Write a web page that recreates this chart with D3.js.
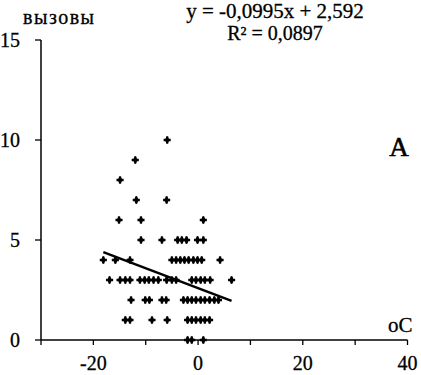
<!DOCTYPE html>
<html>
<head>
<meta charset="utf-8">
<script src="https://cdn.jsdelivr.net/npm/d3@7"></script>
<style>
  body { margin: 0; background: #fff; }
  svg { display: block; }
  text { font-family: "Liberation Serif", "Times New Roman", serif; fill: #000; stroke: #000; stroke-width: 0.3px; }
</style>
</head>
<body>
<div id="chart"></div>
<script>
// temperature (oC) and number of calls
const temps = [
  -5.9,
  -12,
  -14.9,
  -11.8, -6,
  -15.1, -10.9, 1.0,
  -10.9, -6.9, -3.9, -3.1, -2.2, -0.1, 1.0,
  -18.1, -15.8, -13, -5, -4.2, -3.4, -2.6, -1.8, -0.9, -0.1, 0.7, 4.2,
  -16.9, -14.9, -13.9, -13, -11.1, -10.2, -9.4, -8.5, -7.6, -6, -5, -4.2, -1.2, -0.4, 0.5, 1.3, 2.3, 6.4,
  -12.8, -10.1, -9.3, -6.9, -6.1, -2.8, -2, -1.2, -0.4, 0.5, 1.3, 2.2, 3.1, 3.9,
  -13.9, -13, -8.8, -5.9, -2, -1.2, -0.4, 0.5, 1.3, 2.2,
  -2, -1.2, 1.0
]
const calls = [
  10,
  9,
  8,
  7, 7,
  6, 6, 6,
  5, 5, 5, 5, 5, 5, 5,
  4, 4, 4, 4, 4, 4, 4, 4, 4, 4, 4, 4,
  3, 3, 3, 3, 3, 3, 3, 3, 3, 3, 3, 3, 3, 3, 3, 3, 3, 3,
  2, 2, 2, 2, 2, 2, 2, 2, 2, 2, 2, 2, 2, 2,
  1, 1, 1, 1, 1, 1, 1, 1, 1, 1,
  0, 0, 0
]
const xTicks = [-30, -20, -10, 0, 10, 20, 30, 40]
const xLabels = [-20, 0, 20, 40]
const yTicks = [0, 5, 10, 15]
const trend = { slope: -0.0995, intercept: 2.592 }

const width = 421, height = 375

const svg = d3.select('#chart').append('svg')
    .attr('width', width)
    .attr('height', height)

const x = d3.scaleLinear().domain([-30, 40]).range([41, 407.5])
const y = d3.scaleLinear().domain([0, 15]).range([340, 40])

// x axis
const xAxis = svg.append('g').attr('transform', `translate(0, ${y(0)})`)
xAxis.append('line')
    .attr('x1', x(-30)).attr('x2', x(40))
    .attr('stroke', '#000').attr('stroke-width', 1.5)
xAxis.selectAll('.tick')
    .data(xTicks)
    .enter()
    .append('line')
    .attr('x1', d => x(d)).attr('x2', d => x(d))
    .attr('y1', 0).attr('y2', 5)
    .attr('stroke', '#000').attr('stroke-width', 1.3)
xAxis.selectAll('.lbl')
    .data(xLabels)
    .enter()
    .append('text')
    .attr('x', d => x(d))
    .attr('y', 30)
    .attr('text-anchor', 'middle')
    .style('font-size', '20px')
    .text(d => d < 0 ? '-' + Math.abs(d) : d)

// y axis
const yAxis = svg.append('g').attr('transform', `translate(${x(-30)}, 0)`)
yAxis.append('line')
    .attr('y1', y(0)).attr('y2', y(15))
    .attr('stroke', '#000').attr('stroke-width', 1.5)
yAxis.selectAll('.tick')
    .data(yTicks)
    .enter()
    .append('line')
    .attr('x1', -6).attr('x2', 0)
    .attr('y1', d => y(d)).attr('y2', d => y(d))
    .attr('stroke', '#000').attr('stroke-width', 1.3)
yAxis.selectAll('.lbl')
    .data(yTicks)
    .enter()
    .append('text')
    .attr('x', -21)
    .attr('y', d => y(d) + 7)
    .attr('text-anchor', 'end')
    .style('font-size', '20px')
    .text(d => d)

// points: cross with a diamond core
const points = temps.map((t, i) => ({ t: t, c: calls[i] }))
svg.append('g').selectAll('path')
    .data(points)
    .enter()
    .append('path')
    .attr('d', d3.symbol().type(d3.symbolCross).size(28))
    .attr('transform', d => `translate(${x(d.t)}, ${y(d.c)})`)
    .attr('fill', '#000')
svg.append('g').selectAll('path')
    .data(points)
    .enter()
    .append('path')
    .attr('d', d3.symbol().type(d3.symbolDiamond).size(20))
    .attr('transform', d => `translate(${x(d.t)}, ${y(d.c)})`)
    .attr('fill', '#000')

// trend line
const tMin = d3.min(temps), tMax = d3.max(temps)
svg.append('line')
    .attr('x1', x(tMin)).attr('y1', y(trend.slope * tMin + trend.intercept))
    .attr('x2', x(tMax)).attr('y2', y(trend.slope * tMax + trend.intercept))
    .attr('stroke', '#000').attr('stroke-width', 2.4)

// labels
svg.append('text')
    .attr('x', 23).attr('y', 24)
    .style('font-size', '20px')
    .style('letter-spacing', '1.5px')
    .text('вызовы')
svg.append('text')
    .attr('x', 275).attr('y', 18)
    .attr('text-anchor', 'middle')
    .style('font-size', '21px')
    .text('y = -0,0995x  + 2,592')
svg.append('text')
    .attr('x', 275).attr('y', 40)
    .attr('text-anchor', 'middle')
    .style('font-size', '20px')
    .text('R² = 0,0897')
svg.append('text')
    .attr('x', 399).attr('y', 156)
    .attr('text-anchor', 'middle')
    .style('font-size', '27px')
    .style('stroke-width', '0.6px')
    .text('A')
svg.append('text')
    .attr('x', 388).attr('y', 332)
    .style('font-size', '21px')
    .text('oC')
</script>
</body>
</html>
